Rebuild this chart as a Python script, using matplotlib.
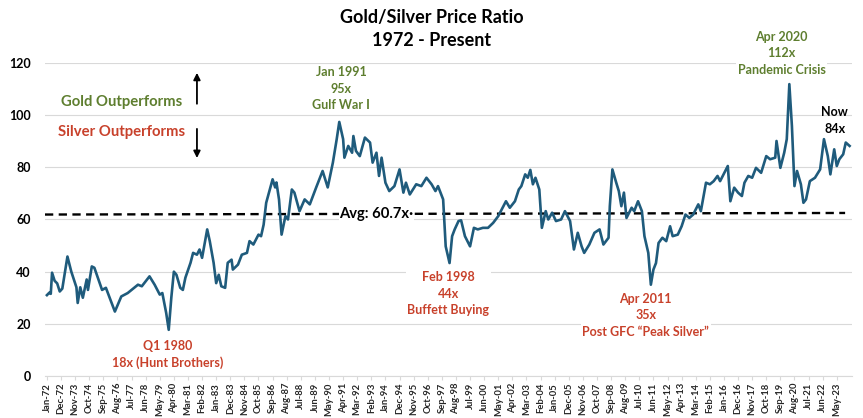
import numpy as np
import pandas as pd
import matplotlib
matplotlib.use("Agg")
import matplotlib.pyplot as plt

# months since Jan 1972 and gold/silver ratio
months = [0, 2, 3, 4, 6, 8, 10, 12, 16, 19, 23, 24, 26, 28, 31, 32, 35, 37, 43, 46,
          53, 58, 63, 71, 74, 80, 84, 88, 90, 93, 95, 97, 99, 101, 104, 106, 108, 112, 114, 117,
          119, 121, 125, 127, 130, 132, 134, 136, 139, 141, 144, 145, 149, 152, 156, 158, 161, 165, 167, 169,
          171, 176, 178, 179, 181, 183, 186, 188, 191, 193, 197, 201, 205, 210, 215, 219, 223, 226, 228, 231,
          232, 235, 238, 239, 241, 244, 248, 252, 254, 257, 259, 261, 264, 267, 271, 275, 278, 280, 283, 288,
          292, 296, 300, 303, 305, 309, 311, 314, 316, 318, 321, 323, 326, 330, 333, 336, 340, 344, 348, 352,
          356, 358, 361, 365, 368, 370, 373, 375, 377, 379, 381, 384, 386, 389, 391, 394, 397, 401, 404, 408,
          411, 414, 417, 419, 423, 427, 431, 434, 438, 439, 441, 444, 446, 448, 450, 452, 456, 458, 461, 464,
          466, 469, 471, 473, 475, 477, 480, 483, 486, 488, 492, 495, 498, 501, 504, 508, 510, 514, 517, 520,
          523, 525, 529, 531, 533, 536, 539, 542, 544, 547, 550, 553, 557, 561, 564, 568, 569, 572, 575, 577,
          579, 581, 583, 585, 588, 590, 592, 595, 599, 603, 606, 609, 611, 614, 616, 618, 621, 623, 626]
ratio = [31.0, 32.0, 31.5, 39.6, 36.5, 35.5, 32.4, 33.5, 45.8, 40.0, 34.0, 28.0, 34.0, 30.0, 37.0, 33.0, 42.0, 41.5, 33.0, 33.8,
         24.7, 30.5, 31.8, 35.0, 34.4, 38.2, 35.0, 31.2, 31.8, 24.2, 17.7, 30.0, 40.0, 38.8, 33.8, 33.0, 37.7, 43.4, 47.2, 46.5,
         48.5, 45.3, 56.2, 51.7, 43.4, 35.6, 38.8, 34.4, 33.8, 43.4, 44.6, 40.8, 42.7, 46.5, 47.2, 51.7, 50.4, 54.2, 53.6, 58.0,
         66.4, 75.4, 72.3, 74.2, 67.7, 54.2, 61.3, 60.0, 71.5, 70.3, 63.2, 67.7, 65.8, 72.3, 78.6, 72.3, 81.8, 90.8, 97.4, 90.8,
         83.7, 88.2, 85.6, 92.0, 86.3, 84.3, 91.4, 89.5, 81.8, 85.6, 76.7, 83.7, 74.1, 70.9, 72.8, 79.2, 70.3, 74.1, 69.6, 73.5,
         72.8, 76.0, 73.5, 70.9, 72.8, 67.7, 49.7, 43.3, 53.6, 56.2, 59.4, 59.7, 53.6, 49.7, 56.8, 56.2, 56.8, 56.8, 58.7, 61.3,
         65.1, 67.0, 64.5, 67.0, 71.5, 72.8, 77.3, 76.0, 79.0, 73.5, 76.0, 71.5, 56.8, 63.2, 60.0, 62.6, 59.4, 60.0, 63.2, 59.4,
         48.5, 54.9, 49.7, 47.2, 50.4, 54.9, 56.2, 50.4, 53.0, 65.1, 79.2, 74.1, 70.9, 65.1, 70.3, 60.6, 64.5, 63.2, 67.0, 63.2,
         53.6, 47.2, 35.0, 40.8, 43.3, 51.0, 53.0, 51.7, 57.4, 53.6, 54.2, 57.4, 61.9, 60.6, 61.9, 65.8, 63.2, 74.1, 73.5, 74.7,
         76.7, 74.7, 78.6, 80.5, 67.0, 72.2, 70.3, 69.0, 74.1, 76.7, 76.0, 79.8, 77.9, 84.3, 83.1, 83.7, 90.1, 79.8, 85.6, 90.8,
         111.9, 95.9, 72.8, 78.6, 73.5, 66.4, 67.7, 74.7, 76.0, 79.2, 90.8, 84.3, 77.3, 86.9, 80.5, 83.1, 85.0, 89.5, 88.2]

avg_months = [-1.5, 622.5]
avg_level = [61.9, 62.5]

tick_dates = pd.date_range("1972-01-01", "2023-05-01", freq="11MS")
tick_pos = [(d.year - 1972) * 12 + d.month - 1 for d in tick_dates]
tick_labels = [d.strftime("%b-%y") for d in tick_dates]

line_col = "#1f5b7c"
green = "#5e7e2f"
red = "#c8412b"

plt.rcParams["font.family"] = ["Lato", "DejaVu Sans"]

fig = plt.figure(figsize=(8.63, 4.18), dpi=100)
ax = fig.add_axes([0.052, 0.1005, 0.935, 0.7488])

ax.set_ylim(0, 120)
ax.set_xlim(-1.6, 627.7)
ax.set_yticks(range(0, 121, 20))
ax.grid(axis="y", color="#d9d9d9", lw=0.8)
ax.set_axisbelow(True)
for s in ["top", "right", "left"]:
    ax.spines[s].set_visible(False)
ax.spines["bottom"].set_color("#d9d9d9")

ax.plot(avg_months, avg_level, color="black", lw=1.7, dashes=(3.5, 2.3), zorder=2)
ax.plot(months, ratio, color=line_col, lw=1.9, zorder=3)

ax.set_xticks(tick_pos)
ax.set_xticklabels(tick_labels, rotation=90, fontsize=6.8, color="#262626",
                   fontweight="bold")
ax.tick_params(axis="x", length=3, color="#d9d9d9", pad=2)
ax.tick_params(axis="y", length=0, pad=10, labelsize=9)
for t in ax.get_yticklabels():
    t.set_fontweight("bold")

fig.text(0.5, 0.958, "Gold/Silver Price Ratio", ha="center", va="center",
         fontsize=13, fontweight="bold")
fig.text(0.5, 0.903, "1972 - Present", ha="center", va="center",
         fontsize=13, fontweight="bold")

box = dict(facecolor="white", edgecolor="none", pad=1)
kw = dict(ha="center", va="center", fontsize=9, fontweight="bold", linespacing=1.45, zorder=4)

ax.text(229.5, 110.2, "Jan 1991\n95x\nGulf War I", color=green, bbox=box, **kw)
ax.text(573, 123.8, "Apr 2020\n112x\nPandemic Crisis", color=green, bbox=box,
        clip_on=False, **kw)
ax.text(614.4, 97.9, "Now\n84x", color="black", **kw)
ax.text(94, 8.3, "Q1 1980\n18x (Hunt Brothers)", color=red, bbox=box, **kw)
ax.text(313, 31.6, "Feb 1998\n44x\nBuffett Buying", color=red, bbox=box, **kw)
ax.text(467, 23.3, "Apr 2011\n35x\nPost GFC \u201cPeak Silver\u201d", color=red, bbox=box, **kw)
ax.text(257, 62.0, "Avg: 60.7x\u00b7", ha="center", va="center", fontsize=10.6,
        fontweight="bold", bbox=dict(facecolor="white", edgecolor="none", pad=0.5), zorder=2.5)

ax.text(58.5, 105.0, "Gold Outperforms", color=green, ha="center", va="center",
        fontsize=10.7, fontweight="bold")
ax.text(58.5, 93.6, "Silver Outperforms", color=red, ha="center", va="center",
        fontsize=10.7, fontweight="bold")
ax.annotate("", xy=(117, 117.3), xytext=(117, 103.3),
            arrowprops=dict(arrowstyle="-|>", color="black", lw=1.3, mutation_scale=10))
ax.annotate("", xy=(117, 82.5), xytext=(117, 95.8),
            arrowprops=dict(arrowstyle="-|>", color="black", lw=1.3, mutation_scale=10))

fig.savefig("out.png", dpi=100)
